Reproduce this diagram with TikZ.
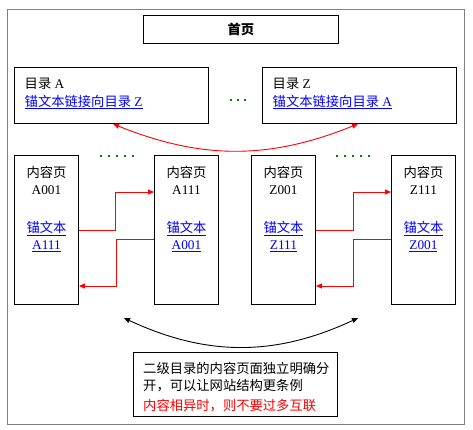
\documentclass[tikz,border=0pt]{standalone}
\usepackage{fontspec}
\setmainfont{Liberation Serif}
\newfontfamily\cjk{Noto Sans CJK SC}
\usetikzlibrary{arrows.meta,positioning,calc}
\definecolor{linkblue}{RGB}{0,0,255}
\definecolor{dotgreen}{RGB}{0,128,0}
\definecolor{framegray}{RGB}{128,128,128}
\newcommand{\lnk}[1]{\textcolor{linkblue}{\underline{#1}}}

\begin{document}
\begin{tikzpicture}[x=1pt,y=-1pt,
    every node/.style={inner sep=0pt, font=\fontsize{13.3}{17.5}\selectfont},
    box/.style={draw, line width=0.9pt, anchor=north west},
    dirbox/.style={box, minimum width=194pt, minimum height=56pt},
    pagebox/.style={box, minimum width=64pt, minimum height=149pt},
    pagetxt/.style={anchor=north, align=center},
    redlink/.style={red, line width=0.9pt, -{Triangle[length=6pt,width=5pt]}},
    bothway/.style={line width=0.9pt, {Triangle[length=6pt,width=5pt]}-{Triangle[length=6pt,width=5pt]}}]
    \useasboundingbox (0,0) rectangle (473,429);
    \draw [framegray, line width=1pt] (7,9) rectangle (464,424);
    % home page
    \node [box, minimum width=195pt, minimum height=28pt, font=\fontsize{13.3}{17.5}\selectfont\bfseries] (home) at (143,15) {\cjk 首页};
    % directories
    \node [dirbox] (dirA) at (14,67) {};
    \node [anchor=north west, align=left] (dirAtxt) at ([xshift=10.5,yshift=-11]dirA.north west) {{\cjk 目录} A\\\lnk{{\cjk 锚文本链接向目录} Z}};
    \node [dirbox] (dirZ) at (262,67) {};
    \node [anchor=north west, align=left] (dirZtxt) at ([xshift=10.5,yshift=-11]dirZ.north west) {{\cjk 目录} Z\\\lnk{{\cjk 锚文本链接向目录} A}};
    \foreach \x in {231,238,245}
        \fill [dotgreen] (\x-1,99) rectangle +(2,2);
    \draw [red, bothway] ([xshift=99]dirA.south west) to [bend right=22] ([xshift=96]dirZ.south west);
    % content pages
    \node [pagebox] (pA1) at (14,155) {};
    \node [pagebox] (pA2) at (154,155) {};
    \node [pagebox] (pZ1) at (251,155) {};
    \node [pagebox] (pZ2) at (391,155) {};
    \node [pagetxt] (pA1txt) at ([yshift=-11]pA1.north) {{\cjk 内容页}\\A001\\[20pt]\lnk{\cjk 锚文本}\\\lnk{A111}};
    \node [pagetxt] (pA2txt) at ([yshift=-11]pA2.north) {{\cjk 内容页}\\A111\\[20pt]\lnk{\cjk 锚文本}\\\lnk{A001}};
    \node [pagetxt] (pZ1txt) at ([yshift=-11]pZ1.north) {{\cjk 内容页}\\Z001\\[20pt]\lnk{\cjk 锚文本}\\\lnk{Z111}};
    \node [pagetxt] (pZ2txt) at ([yshift=-11]pZ2.north) {{\cjk 内容页}\\Z111\\[20pt]\lnk{\cjk 锚文本}\\\lnk{Z001}};
    \foreach \x in {101,109,117,125,133,337,345,353,361,369}
        \fill [dotgreen] (\x-1,155) rectangle +(2,2);
    \draw [redlink] ([yshift=-75]pA1.north east) -- ++(37,0) |- ([yshift=-37]pA2.north west);
    \draw [redlink] ([yshift=-84]pA2.north west) -- ++(-38,0) |- ([yshift=-131]pA1.north east);
    \draw [redlink] ([yshift=-75]pZ1.north east) -- ++(38,0) |- ([yshift=-37]pZ2.north west);
    \draw [redlink] ([yshift=-84]pZ2.north west) -- ++(-38,0) |- ([yshift=-131]pZ1.north east);
    % note
    \coordinate (pairA) at (124,318);
    \coordinate (pairZ) at (358,318);
    \draw [bothway] (pairA) to [bend right=25] (pairZ);
    \node [box, minimum width=204pt, minimum height=64pt] (note) at (133,352) {};
    \node [anchor=north west, align=left, font=\fontsize{13.3}{17}\selectfont\cjk] (notetxt) at ([xshift=10,yshift=-10]note.north west) {二级目录的内容页面独立明确分\\开，可以让网站结构更条例\\[3pt]\textcolor{red}{内容相异时，则不要过多互联}};
\end{tikzpicture}
\end{document}
